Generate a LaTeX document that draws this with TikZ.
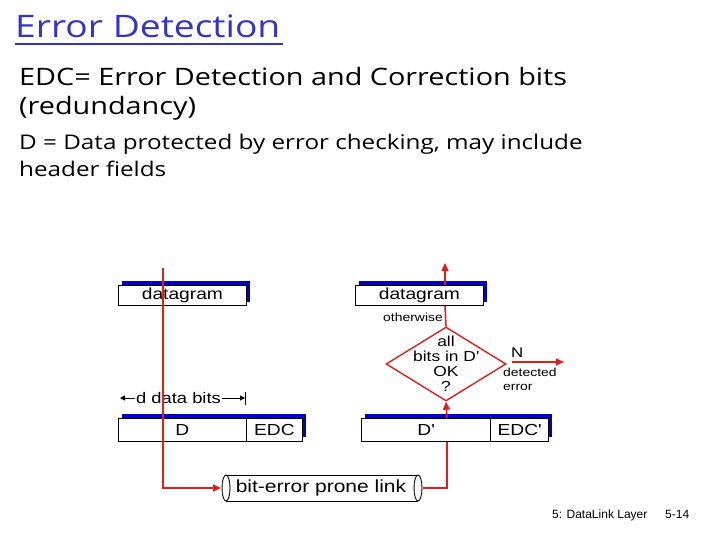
\documentclass[tikz,border=0pt]{standalone}
\usepackage{fontspec}
\setmainfont[FakeStretch=1.2]{Liberation Sans}
\newfontfamily\headfont[FakeStretch=1.2]{Open Sans}
\newfontfamily\footfont{Liberation Sans}
\usetikzlibrary{shapes.geometric,arrows.meta}
\definecolor{titleblue}{RGB}{51,51,204}
\definecolor{shadowblue}{RGB}{0,0,190}
\definecolor{linkred}{RGB}{225,30,30}
\tikzset{
  redline/.style={draw=linkred, line width=1.6pt},
  redarrow/.style={redline, -{Triangle[length=8pt,width=7pt]}},
  pbox/.style={draw=black, fill=white, line width=0.8pt, inner sep=0pt, anchor=north west},
  shadow/.style={fill=shadowblue, draw=none},
  boxtext/.style={font=\fontsize{16}{18}\selectfont},
  smalltext/.style={font=\fontsize{11.6}{14}\selectfont, inner sep=0pt},
  foottext/.style={font=\footfont\fontsize{12}{14}\selectfont, inner sep=0pt},
  dimarrow/.style={line width=1pt, -{Triangle[length=5pt,width=5pt]}},
}
\begin{document}
\begin{tikzpicture}[x=1pt,y=-1pt]
\useasboundingbox (0,0) rectangle (720,540);
% header
\node[anchor=base west, inner sep=0pt, text=titleblue, font=\headfont\fontsize{31}{34}\selectfont] (title) at (15,38) {Error Detection};
\draw[titleblue, line width=1.5pt] (15,44) -- (283,44);
\node[anchor=base west, inner sep=0pt, font=\headfont\fontsize{24}{26}\selectfont] (edc) at (19,86) {EDC= Error Detection and Correction bits};
\node[anchor=base west, inner sep=0pt, font=\headfont\fontsize{24}{26}\selectfont] (red) at (19,115) {(redundancy)};
\node[anchor=base west, inner sep=0pt, font=\headfont\fontsize{20.2}{22}\selectfont] (dl1) at (19,150) {D = Data protected by error checking, may include};
\node[anchor=base west, inner sep=0pt, font=\headfont\fontsize{20.2}{22}\selectfont] (dl2) at (19,177) {header fields};

% ---- left side (sender)
\fill[shadow] (122,281) rectangle (250,302);
\node[pbox, minimum width=128pt, minimum height=20pt, boxtext] (dgL) at (118,285) {datagram};
\fill[shadow] (122,414) rectangle (306,437);
\node[pbox, minimum width=128pt, minimum height=23pt, boxtext] (Dbox) at (118,418) {D};
\node[pbox, minimum width=56pt, minimum height=23pt, boxtext] (EDCbox) at (246,418) {EDC};

% d data bits
\node[anchor=base, inner sep=0pt, font=\fontsize{15.3}{17}\selectfont] (dbits) at (178.5,403) {d data bits};
\coordinate (dbLs) at (135,398);
\coordinate (dbL) at (120,398);
\coordinate (dbRs) at (222,398);
\coordinate (dbR) at (245,398);
\coordinate (tickT) at (245,392);
\coordinate (tickB) at (245,405);
\draw[dimarrow] (dbLs) -- (dbL);
\draw[dimarrow] (dbRs) -- (dbR);
\draw[line width=1pt] (tickT) -- (tickB);

% cylinder link
\fill[white] (226,475) rectangle (418,501);
\draw[line width=0.9pt] (226,475) -- (418,475) (226,501) -- (418,501);
\draw[line width=0.9pt, fill=white] (226,488) ellipse (4pt and 13pt);
\draw[line width=0.9pt, fill=white] (418,488) ellipse (4pt and 13pt);
\node[inner sep=0pt, font=\fontsize{17.5}{19}\selectfont, anchor=center] (link) at (321,488) {bit-error prone link};
\coordinate (linkL) at (221,488);
\coordinate (linkR) at (423,488);

% left red line
\coordinate (sTop) at (163,268);
\coordinate (sCorner) at (163,488);
\draw[redarrow] (sTop) -- (sCorner) -- (linkL);

% ---- right side (receiver)
\fill[shadow] (359,281) rectangle (487,302);
\node[pbox, minimum width=128pt, minimum height=20pt, boxtext] (dgR) at (355,285) {datagram};
\fill[shadow] (365,414) rectangle (552,437);
\node[pbox, minimum width=129pt, minimum height=23pt, boxtext] (Dpbox) at (361,418) {D\textquotesingle};
\node[pbox, minimum width=58pt, minimum height=23pt, boxtext] (EDCpbox) at (490,418) {EDC\textquotesingle};

\node[diamond, draw=linkred, line width=1.4pt, fill=white, minimum width=120pt, minimum height=74pt, inner sep=0pt, aspect=1.6] (dia) at (446,364) {};
\node[align=center, inner sep=0pt, font=\fontsize{14.5}{16}\selectfont] (diatext) at (446,364) {all\\[-1pt]bits in D\textquotesingle\\[-1pt]OK\\[-1pt]?};

\coordinate (upEnd) at (445,263);
\coordinate (errStart) at (512,362);
\coordinate (errEnd) at (564,362);
\coordinate (rc) at (447,488);
\coordinate (ux) at (445,0);
\draw[redline] (linkR) -- (rc) -- (rc |- Dpbox.south);
\draw[redarrow] (rc |- Dpbox.north) -- (dia.south);
\draw[redline] (dia.north) -- (ux |- dgR.south);
\draw[redarrow] (ux |- dgR.north) -- (upEnd);
\draw[redarrow] (errStart) -- (errEnd);

\node[smalltext, anchor=base east] (oth) at (443,321) {otherwise};
\node[inner sep=0pt, anchor=base west, font=\fontsize{14}{16}\selectfont] (N) at (511,357) {N};
\node[smalltext, anchor=north west, align=left] (det) at (503,368) {detected\\error};

% footer
\node[foottext, anchor=base west] (foot) at (552,518) {5: DataLink Layer};
\node[foottext, anchor=base west] (page) at (665,518) {5-14};
\end{tikzpicture}
\end{document}
